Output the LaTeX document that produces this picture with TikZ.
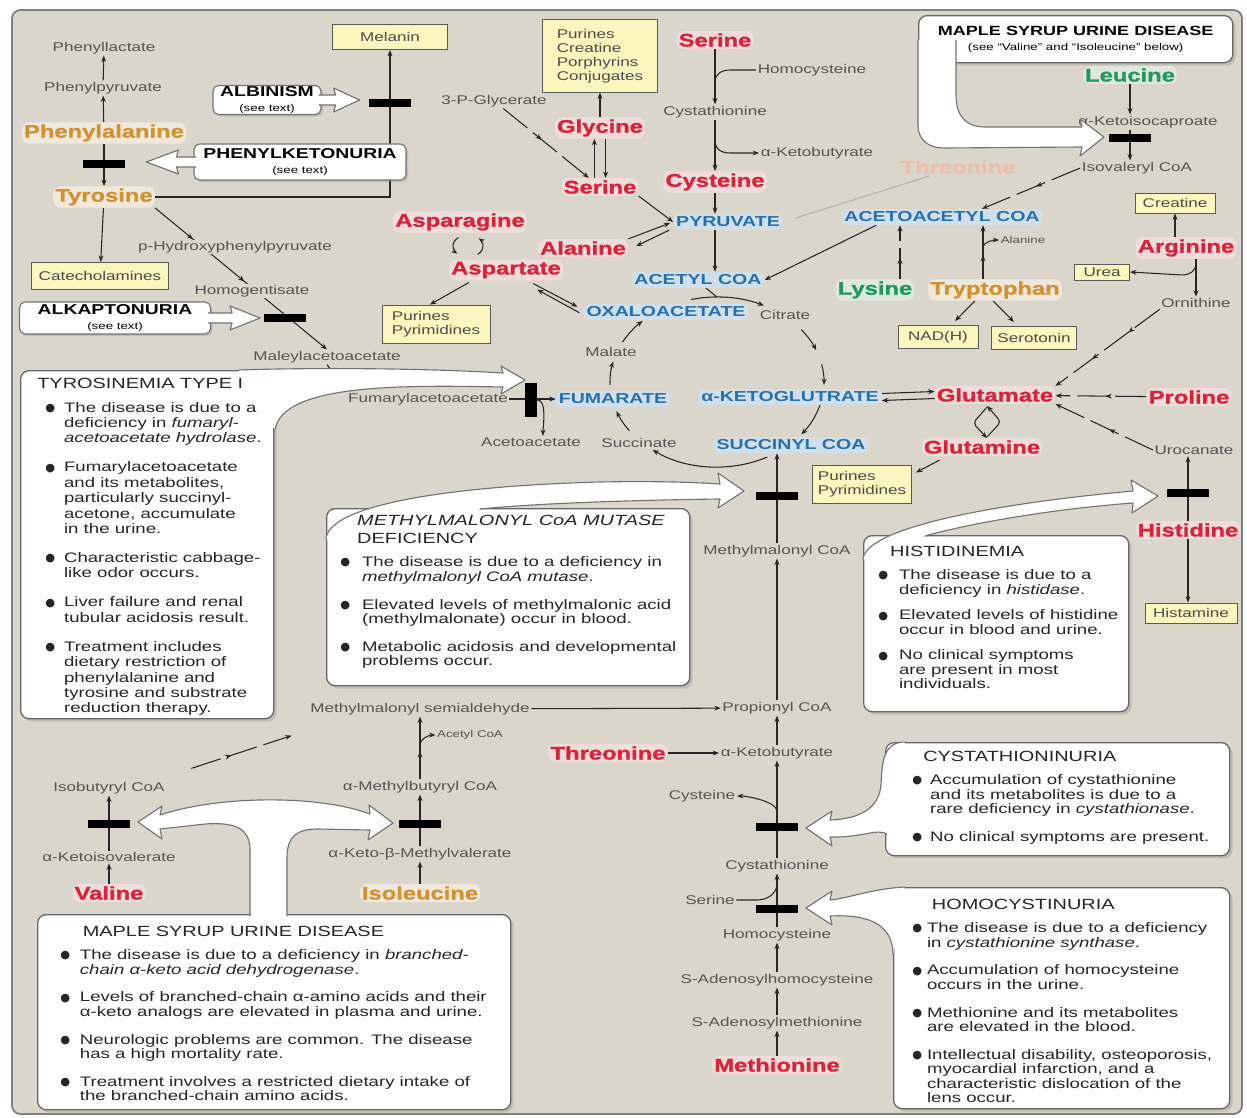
\documentclass[tikz,border=0pt]{standalone}
\usepackage{fontspec}
\setmainfont[FakeStretch=1.35]{Liberation Sans}
\newfontfamily\aafont[FakeStretch=1.3, FakeBold=1.2]{Liberation Sans Bold}
\newfontfamily\symfont{DejaVu Sans}
\usetikzlibrary{arrows.meta, calc, shadows, backgrounds, decorations.markings}

\definecolor{panelbeige}{RGB}{219,214,203}
\definecolor{aared}{RGB}{216,36,58}
\definecolor{aaorange}{RGB}{210,146,52}
\definecolor{aagreen}{RGB}{36,152,90}
\definecolor{fadedthr}{RGB}{236,190,170}
\definecolor{hubblue}{RGB}{40,112,170}
\definecolor{hubglow}{RGB}{206,226,240}
\definecolor{prodyellow}{RGB}{250,246,190}
\definecolor{metgray}{RGB}{86,84,82}

\tikzset{
    met/.style={font=\fontsize{9}{10}\selectfont, text=metgray, fill=panelbeige, inner sep=1pt},
    smallmet/.style={font=\fontsize{7}{8}\selectfont, text=metgray, fill=panelbeige, inner sep=1pt},
    aa/.style={font=\aafont\fontsize{13}{14}\selectfont, text=#1, fill=#1!14, fill opacity=0.7, text opacity=1, rounded corners=5pt, inner sep=1.5pt},
    hub/.style={font=\fontsize{10.3}{11}\selectfont\bfseries, text=hubblue, fill=hubglow, fill opacity=0.85, text opacity=1, rounded corners=4pt, inner sep=2pt},
    prodbox/.style={draw=black!65, fill=prodyellow, line width=0.7pt, font=\fontsize{9}{10}\selectfont, text=black!70, inner sep=2pt},
    blockbar/.style={fill=black, minimum width=1.05cm, minimum height=0.22cm, inner sep=0pt},
    vblockbar/.style={fill=black, minimum width=0.3cm, minimum height=0.85cm, inner sep=0pt},
    metarrow/.style={-{Stealth[length=4.5pt,width=3.5pt]}, line width=0.75pt, draw=black!85},
    metline/.style={line width=0.75pt, draw=black!85},
    multistep/.style={metarrow, dash pattern=on 22pt off 5pt},
    arrowat/.style={postaction={decorate, decoration={markings, mark=at position #1 with {\arrow{Stealth[length=4.5pt,width=3.5pt]}}}}},
    infobox/.style={draw=black!60, fill=white, rounded corners=6pt, line width=0.9pt, drop shadow={opacity=0.3, shadow xshift=2pt, shadow yshift=-2pt}},
    boxtext/.style={font=\fontsize{9.8}{10.3}\selectfont, text=black!85, inner sep=0pt},
    calloutbox/.style={draw=black!55, fill=white, rounded corners=4pt, line width=0.8pt, align=center, inner sep=1pt, drop shadow={opacity=0.3, shadow xshift=1.5pt, shadow yshift=-1.5pt}},
    calloutedge/.style={draw=black!55, fill=white, line width=0.8pt, line join=round}
}
\newcommand{\boxhead}[1]{{\fontsize{10.5}{12}\selectfont #1}}
\newcommand{\calloutname}[1]{{\fontsize{10.2}{11.5}\selectfont\bfseries #1}}
\newcommand{\seetext}[1]{{\fontsize{7}{8}\selectfont #1}}
\newcommand{\blt}{\raisebox{0.1ex}{\symfont\fontsize{8}{8}\selectfont ●}}

\begin{document}
\begin{tikzpicture}[x=0.025cm, y=-0.025cm]

\useasboundingbox (0,0) rectangle (1247,1117);
\begin{scope}[on background layer]
    \fill[white] (0,0) rectangle (1247,1117);
    \draw[rounded corners=6pt, fill=panelbeige, draw=black!50, line width=1.3pt] (12,10) rectangle (1242,1114);
\end{scope}

% phenylalanine / tyrosine
\node[met] (plac) at (104,48) {Phenyllactate};
\node[met] (ppyr) at (103,88) {Phenylpyruvate};
\node[aa=aaorange] (phe) at (104,133) {Phenylalanine};
\node[aa=aaorange] (tyr) at (104,197) {Tyrosine};
\node[prodbox, minimum width=2.875cm, minimum height=0.625cm] (melanin) at (390,37) {Melanin};
\node[prodbox, minimum width=3.4cm, minimum height=0.675cm] (catechol) at (100,276) {Catecholamines};
\node[met] (hpp) at (235,247) {p-Hydroxyphenylpyruvate};
\node[met] (hga) at (252,291) {Homogentisate};
\node[met] (mal) at (327,357) {Maleylacetoacetate};
\node[met] (fumaa) at (428,399) {Fumarylacetoacetate};
\node[met] (acac) at (531,442) {Acetoacetate};

% serine, glycine, pyruvate
\node[met] (pg3) at (494,101) {3-P-Glycerate};
\node[prodbox, align=left, minimum width=2.875cm, minimum height=1.8cm] (purbox) at (600,56) {Purines\\Creatine\\Porphyrins\\Conjugates};
\node[aa=aared] (gly) at (600,128) {Glycine};
\node[aa=aared] (ser2) at (600,187) {Serine};
\node[aa=aared] (ser1) at (715,40) {Serine};
\node[met] (hcy1) at (812,70) {Homocysteine};
\node[met] (cysta1) at (715,112) {Cystathionine};
\node[met] (akb1) at (817,153) {α-Ketobutyrate};
\node[aa=aared] (cys1) at (715,182) {Cysteine};
\node[hub] (pyr) at (728,222) {PYRUVATE};
\node[aa=aared] (ala) at (583,248) {Alanine};
\node[aa=aared] (asn) at (460,222) {Asparagine};
\coordinate (asnloop) at (468,246);
\node[aa=aared] (asp) at (506,270) {Aspartate};
\node[prodbox, align=left, minimum width=2.7cm, minimum height=0.95cm] (purpyr1) at (436,324) {Purines\\Pyrimidines};
\node[hub] (acoa) at (698,280) {ACETYL COA};

% citric acid cycle
\coordinate (tca) at (717,382);
\node[hub] (oaa) at (666,312) {OXALOACETATE};
\node[met] (cit) at (785,315) {Citrate};
\node[met] (mlt) at (611,352) {Malate};
\node[hub] (fum) at (613,399) {FUMARATE};
\node[hub] (akg) at (790,397) {α-KETOGLUTRATE};
\node[met] (suc) at (639,443) {Succinate};
\node[hub] (sca) at (791,445) {SUCCINYL COA};

% ketogenic side
\node[aa=fadedthr, fill=none] (thr1) at (958,167) {Threonine};
\node[aa=aagreen] (leu) at (1130,75) {Leucine};
\node[met] (kic) at (1148,122) {α-Ketoisocaproate};
\node[met] (ivcoa) at (1137,168) {Isovaleryl CoA};
\node[hub] (aacoa) at (942,217) {ACETOACETYL COA};
\node[aa=aagreen] (lys) at (875,290) {Lysine};
\node[aa=aaorange] (trp) at (995,290) {Tryptophan};
\node[smallmet] (alas) at (1023,240) {Alanine};
\node[prodbox, minimum width=2cm, minimum height=0.575cm] (nadh) at (938,337) {NAD(H)};
\node[prodbox, minimum width=2.125cm, minimum height=0.575cm] (sero) at (1034,338) {Serotonin};
\node[prodbox, minimum width=2cm, minimum height=0.5cm] (creat) at (1175,203) {Creatine};
\node[aa=aared] (arg) at (1186,248) {Arginine};
\node[prodbox, minimum width=1.375cm, minimum height=0.4cm, inner sep=0pt] (urea) at (1102,272) {Urea};
\node[met] (orn) at (1196,303) {Ornithine};
\node[aa=aared] (glu) at (995,395) {Glutamate};
\node[aa=aared] (pro) at (1189,397) {Proline};
\node[met] (uro) at (1194,450) {Urocanate};
\node[aa=aared] (gln) at (982,447) {Glutamine};
\node[prodbox, align=left, minimum width=2.475cm, minimum height=0.95cm] (purpyr2) at (862,484) {Purines\\Pyrimidines};
\node[aa=aared] (his) at (1188,530) {Histidine};
\node[prodbox, minimum width=2.3cm, minimum height=0.5cm] (hista) at (1191,613) {Histamine};

% propionyl CoA and branched chains
\node[met] (mmcoa) at (777,551) {Methylmalonyl CoA};
\node[met] (msa) at (420,709) {Methylmalonyl semialdehyde};
\node[met] (pcoa) at (777,708) {Propionyl CoA};
\node[smallmet] (acoas) at (470,735) {Acetyl CoA};
\node[met] (mbcoa) at (420,787) {α-Methylbutyryl CoA};
\node[met] (kmv) at (420,854) {α-Keto-β-Methylvalerate};
\node[aa=aaorange] (ile) at (420,893) {Isoleucine};
\node[met] (ibcoa) at (109,788) {Isobutyryl CoA};
\node[met] (kiv) at (109,857) {α-Ketoisovalerate};
\node[aa=aared] (val) at (109,893) {Valine};
\node[aa=aared] (thr2) at (608,753) {Threonine};
\node[met] (akb2) at (777,753) {α-Ketobutyrate};
\node[met] (cys2) at (702,796) {Cysteine};
\node[met] (cysta2) at (777,866) {Cystathionine};
\node[met] (ser3) at (710,900) {Serine};
\node[met] (hcy2) at (777,935) {Homocysteine};
\node[met] (sah) at (777,980) {S-Adenosylhomocysteine};
\node[met] (sam) at (777,1023) {S-Adenosylmethionine};
\node[aa=aared] (methio) at (777,1065) {Methionine};

\begin{scope}[on background layer]
    \draw[metarrow] (phe) -- (ppyr);
    \draw[metarrow] (ppyr) -- (plac);
    \draw[metarrow] (phe) -- (tyr);
    \draw[metarrow] (tyr.east) -| (melanin.south);
    \draw[metarrow] (tyr) -- (catechol);
    \draw[metarrow, arrowat=0.22, arrowat=0.52] (tyr.south east) -- (mal.north);
    \draw[metarrow] (mal.south) -- (fumaa.north west);
    \draw[metarrow] (fumaa) -- (fum);
    \draw[multistep, arrowat=0.45] (pg3) -- (ser2);
    \draw[metarrow] (gly) -- (purbox);
    \draw[metarrow] ([xshift=-4pt]ser2.north) -- ([xshift=-4pt]gly.south);
    \draw[metarrow] ([xshift=4pt]gly.south) -- ([xshift=4pt]ser2.north);
    \draw[metarrow] (ser1) -- (cysta1);
    \draw[metline] (hcy1.west) -- ($(ser1.south |- hcy1.west)+(16,0)$) .. controls +(-10,0) and +(0,-8) .. ($(ser1.south |- hcy1.west)+(0,12)$);
    \draw[metarrow] (cysta1) -- (cys1);
    \draw[metarrow] ($(cysta1.south)+(0,20)$) .. controls +(0,10) and +(-10,0) .. ($(cysta1.south |- akb1.west)+(16,0)$) -- (akb1.west);
    \draw[metarrow] (cys1.south) -- (cys1.south |- pyr.north);
    \draw[metarrow] (ser2.south east) -- (pyr.west);
    \draw[metarrow] (ala.north east) -- ($(pyr.west)+(-3,1)$);
    \draw[metarrow] ($(pyr.south west)+(-4,0)$) -- ($(ala.east)+(8,-2)$);
    \draw[black!30, line width=0.75pt, shorten >=10pt] (thr1) -- (pyr.east);
    \draw[metarrow] (cys1.south |- pyr.south) -- (cys1.south |- acoa.north);
    \draw[metline] ($(acoa.south)+(8,0)$) -- ($(tca)+(0,-85)$);
    % cycle arcs
    \foreach \s/\e in {-104/-64, -38/-22, -12/2, 15/38, 62/127, 145/160, 178/194, 208/226}
        \draw[metarrow] ($(tca)+(\s:107 and 85)$) arc[start angle=\s, end angle=\e, x radius=107, y radius=85];
    \draw[metarrow] ($(asp.south east)+(-30,3)$) -- ($(oaa.north west)+(-6,3)$);
    \draw[metarrow] ($(oaa.north west)+(-4,9)$) -- ($(asp.south east)+(-26,9)$);
    \draw[metarrow] ($(asp.south west)+(20,2)$) -- ($(purpyr1.north)+(-6,0)$);
    \draw[metarrow] ($(asnloop)+(230:15 and 11)$) arc[start angle=230, end angle=135, x radius=15, y radius=11];
    \draw[metarrow] ($(asnloop)+(50:15 and 11)$) arc[start angle=50, end angle=-45, x radius=15, y radius=11];
    % ketogenic side
    \draw[metarrow] (leu.south) -- (leu.south |- kic.north);
    \draw[metarrow] (leu.south |- kic.south) -- (leu.south |- ivcoa.north);
    \draw[multistep, arrowat=0.45] (ivcoa.west) -- ($(aacoa.north)+(40,0)$);
    \draw[metarrow] ($(aacoa.south west)+(35,0)$) -- (acoa.east);
    \draw[multistep, arrowat=0.4] ($(lys.north)+(25,0)$) -- ($(aacoa.south)+(-42,0)$);
    \draw[metarrow, arrowat=0.45] ($(trp.north)+(-12,0)$) -- ($(aacoa.south)+(41,0)$);
    \draw[metarrow] ($(aacoa.south)+(41,22)$) .. controls +(0,-5) and +(-6,0) .. (alas.west);
    \draw[metarrow] ($(trp.south)+(-20,0)$) -- ($(nadh.north)+(17,-4)$);
    \draw[metarrow] ($(trp.south)+(-2,0)$) -- ($(sero.north)+(-20,-4)$);
    \draw[metarrow] (arg.north -| creat.south) -- (creat.south);
    \draw[metarrow] (arg.south -| orn.north) -- (orn.north);
    \draw[metarrow] ($(arg.south -| orn.north)+(0,4)$) .. controls +(0,8) and +(8,0) .. ($(arg.south -| orn.north)+(-14,16)$) -- (urea.east);
    \draw[multistep, arrowat=0.3, arrowat=0.65] (orn.south west) -- (glu.north east);
    \draw[multistep, arrowat=0.45] (pro) -- (glu);
    \draw[multistep, arrowat=0.45] (uro.west) -- (glu.south east);
    \draw[metarrow] ([yshift=2.5pt]akg.east) -- ([yshift=2.5pt]glu.west);
    \draw[metarrow] ([yshift=-2.5pt]glu.west) -- ([yshift=-2.5pt]akg.east);
    \draw[metarrow, rounded corners=3pt] ($(glu.south)+(-8,3)$) -- ++(-14,16) -- ++(14,15);
    \draw[metarrow, rounded corners=3pt] ($(gln.north)+(5,-1)$) -- ++(14,-15) -- ++(-14,-16);
    \draw[metarrow] ($(gln.south west)+(18,4)$) -- ($(purpyr2.north east)+(4,8)$);
    \draw[metarrow] (his.north) -- (his.north |- uro.south);
    \draw[metarrow] (his.south) -- (his.south |- hista.north);
    % propionyl CoA column
    \draw[metarrow] (mmcoa.north) -- (mmcoa.north |- sca.south);
    \draw[metarrow] (pcoa) -- (mmcoa);
    \draw[metarrow] (msa) -- (pcoa);
    \draw[metarrow, arrowat=0.45] (mbcoa) -- (msa);
    \draw[metarrow] ($(msa.south)+(0,28)$) .. controls +(0,-6) and +(-6,0) .. (acoas.west);
    \draw[metarrow] (kmv) -- (mbcoa);
    \draw[metarrow] (ile) -- (kmv);
    \draw[metarrow] (kiv) -- (ibcoa);
    \draw[metarrow] (val) -- (kiv);
    \draw[multistep, arrowat=0.4] ($(ibcoa.north east)+(25,-12)$) -- ($(msa.south west)+(-17,19)$);
    \draw[metarrow] (thr2) -- (akb2);
    \draw[metarrow] (akb2) -- (pcoa);
    \draw[metarrow] (cysta2) -- (akb2);
    \draw[metarrow] ($(cysta2.north)+(0,-47)$) .. controls +(0,-10) and +(10,0) .. (cys2.east);
    \draw[metarrow] (hcy2) -- (cysta2);
    \draw[metline] (ser3.east) -- ($(ser3.east -| hcy2)+(-20,0)$) .. controls +(12,0) and +(0,8) .. ($(ser3.east -| hcy2)+(0,-16)$);
    \draw[metarrow] (sah) -- (hcy2);
    \draw[metarrow] (sam) -- (sah);
    \draw[metarrow] (methio) -- (sam);
\end{scope}

% enzyme blocks
\node[blockbar] (pkubar) at (104,164) {};
\node[blockbar] (albbar) at (390,103) {};
\node[blockbar] (alkbar) at (285,318) {};
\node[vblockbar] (fahbar) at (531,400) {};
\node[blockbar] (msudbar) at (1130,138) {};
\node[blockbar] (mcmbar) at (777,496) {};
\node[blockbar] (hisbar) at (1188,493) {};
\node[blockbar] (ilebar) at (420,824) {};
\node[blockbar] (valbar) at (109,824) {};
\node[blockbar] (ctnbar) at (777,827) {};
\node[blockbar] (cbsbar) at (777,909) {};
\draw[metarrow] (fahbar.east) .. controls +(10,0) and +(0,-10) .. ($(acac.north)+(12,0)$);

% small callouts
\node[calloutbox, minimum width=2.7cm, minimum height=0.725cm] (albinism) at (267,100) {\calloutname{ALBINISM}\\[-2pt]\seetext{(see text)}};
\draw[calloutedge] ($(albinism.east)+(-3,-5)$) -- ++(17,0) -- ++(-2,-7) -- ++(26,12) -- ++(-26,12) -- ++(2,-7) -- ++(-17,0);
\node[calloutbox, minimum width=5.3cm, minimum height=0.9cm] (pku) at (300,162) {\calloutname{PHENYLKETONURIA}\\[-2pt]\seetext{(see text)}};
\draw[calloutedge] ($(pku.west)+(3,-5)$) -- ++(-20,0) -- ++(2,-7) -- ++(-32,12) -- ++(32,12) -- ++(-2,-7) -- ++(20,0);
\node[calloutbox, minimum width=4.775cm, minimum height=0.8cm] (alk) at (115,318) {\calloutname{ALKAPTONURIA}\\[-2pt]\seetext{(see text)}};
\draw[calloutedge] ($(alk.east)+(-3,-5)$) -- ++(24,0) -- ++(-2,-7) -- ++(30,12) -- ++(-30,12) -- ++(2,-7) -- ++(-24,0);

% maple syrup urine disease, top
\node[infobox, anchor=north west, minimum width=7.85cm, minimum height=1.175cm, align=center, inner sep=1pt] (msudtop) at (918,15) {{\fontsize{9.5}{11}\selectfont\bfseries MAPLE SYRUP URINE DISEASE}\\[-1pt]\seetext{(see “Valine” and “Isoleucine” below)}};
\draw[calloutedge] (918,40) -- (918,125) .. controls (918,140) and (928,148) .. (945,148) -- (1082,147) -- (1080,156) -- (1104,137) -- (1080,119) -- (1082,127) -- (985,127) .. controls (965,127) and (956,115) .. (956,95) -- (956,40);

% tyrosinemia
\node[infobox, anchor=north west, minimum width=6.325cm, minimum height=8.7cm] (tyrbox) at (20,370) {};
\draw[calloutedge] (238,370) .. controls (330,367) and (440,369) .. (503,373) -- (501,366) -- (525,380) -- (501,394) -- (503,387) .. controls (400,385) and (282,384) .. (275,430);
\node[boxtext, font=\fontsize{9.8}{11}\selectfont, anchor=north west] (tyrtext) at (37,377) {%
\begin{tabular}{@{\hspace{5.7pt}}l@{\hspace{6.4pt}}l@{}}
\multicolumn{2}{@{}l@{}}{\boxhead{TYROSINEMIA TYPE I}}\\[6pt]
\blt & The disease is due to a\\
 & deficiency in \textit{fumaryl-}\\
 & \textit{acetoacetate hydrolase}.\\[9.5pt]
\blt & Fumarylacetoacetate\\
 & and its metabolites,\\
 & particularly succinyl-\\
 & acetone, accumulate\\
 & in the urine.\\[9.5pt]
\blt & Characteristic cabbage-\\
 & like odor occurs.\\[9.5pt]
\blt & Liver failure and renal\\
 & tubular acidosis result.\\[9.5pt]
\blt & Treatment includes\\
 & dietary restriction of\\
 & phenylalanine and\\
 & tyrosine and substrate\\
 & reduction therapy.
\end{tabular}};

% methylmalonyl CoA mutase deficiency
\node[infobox, anchor=north west, minimum width=9.075cm, minimum height=4.425cm] (mmbox) at (326,508) {};
\draw[calloutedge] (326,540) .. controls (326,505) and (450,486) .. (600,482) .. controls (650,481) and (690,482) .. (720,484) -- (718,473) -- (744,491) -- (718,508) -- (720,499) .. controls (640,500) and (540,503) .. (480,509);
\node[boxtext, anchor=north west] (mmtext) at (340,515) {%
\begin{tabular}{@{}l@{\hspace{8.5pt}}l@{}}
\multicolumn{2}{@{\hspace{12pt}}l@{}}{\boxhead{\textit{METHYLMALONYL CoA MUTASE}}}\\[2.5pt]
\multicolumn{2}{@{\hspace{12pt}}l@{}}{\boxhead{DEFICIENCY}}\\[6pt]
\blt & The disease is due to a deficiency in\\
 & \textit{methylmalonyl CoA mutase}.\\[9.5pt]
\blt & Elevated levels of methylmalonic acid\\
 & (methylmalonate) occur in blood.\\[9.5pt]
\blt & Metabolic acidosis and developmental\\
 & problems occur.
\end{tabular}};

% histidinemia
\node[infobox, anchor=north west, minimum width=6.625cm, minimum height=4.4cm] (hisbox) at (863,535) {};
\draw[calloutedge] (863,560) .. controls (863,530) and (980,505) .. (1133,491) -- (1131,480) -- (1158,496) -- (1132,513) -- (1133,503) .. controls (1040,510) and (960,526) .. (925,536);
\node[boxtext, anchor=north west] (histext) at (878,546) {%
\begin{tabular}{@{}l@{\hspace{7.8pt}}l@{}}
\multicolumn{2}{@{\hspace{8.5pt}}l@{}}{\boxhead{HISTIDINEMIA}}\\[6pt]
\blt & The disease is due to a\\
 & deficiency in \textit{histidase}.\\[8pt]
\blt & Elevated levels of histidine\\
 & occur in blood and urine.\\[8pt]
\blt & No clinical symptoms\\
 & are present in most\\
 & individuals.
\end{tabular}};

% cystathioninuria
\node[infobox, anchor=north west, minimum width=8.6cm, minimum height=2.825cm] (ctnbox) at (885,742) {};
\draw[calloutedge] (905,742) .. controls (884,742) and (882,760) .. (881,785) .. controls (879,808) and (860,819) .. (830,820) -- (832,811) -- (806,828) -- (832,846) -- (830,837) .. controls (860,838) and (878,828) .. (887,834);
\node[boxtext, anchor=north west] (ctntext) at (912,751) {%
\begin{tabular}{@{}l@{\hspace{5.7pt}}l@{}}
\multicolumn{2}{@{\hspace{7.8pt}}l@{}}{\boxhead{CYSTATHIONINURIA}}\\[6pt]
\blt & Accumulation of cystathionine\\
 & and its metabolites is due to a\\
 & rare deficiency in \textit{cystathionase}.\\[9.5pt]
\blt & No clinical symptoms are present.
\end{tabular}};

% homocystinuria
\node[infobox, anchor=north west, minimum width=8.4cm, minimum height=5.525cm] (cbsbox) at (893,887) {};
\draw[calloutedge] (905,887) .. controls (870,889) and (850,898) .. (830,900) -- (832,891) -- (806,908) -- (832,925) -- (830,916) .. controls (870,914) and (893,925) .. (893,955);
\node[boxtext, anchor=north west] (cbstext) at (912,899) {%
\begin{tabular}{@{}l@{\hspace{3.5pt}}l@{}}
\multicolumn{2}{@{\hspace{14pt}}l@{}}{\boxhead{HOMOCYSTINURIA}}\\[6pt]
\blt & The disease is due to a deficiency\\
 & in \textit{cystathionine synthase}.\\[9.5pt]
\blt & Accumulation of homocysteine\\
 & occurs in the urine.\\[9.5pt]
\blt & Methionine and its metabolites\\
 & are elevated in the blood.\\[9.5pt]
\blt & Intellectual disability, osteoporosis,\\
 & myocardial infarction, and a\\
 & characteristic dislocation of the\\
 & lens occur.
\end{tabular}};

% maple syrup urine disease, bottom
\node[infobox, anchor=north west, minimum width=11.825cm, minimum height=4.875cm] (msudbox) at (37,914) {};
\draw[calloutedge] (250,916) -- (250,850) .. controls (250,828) and (235,822) .. (205,824) -- (160,829) -- (162,839) -- (138,822) -- (162,806) -- (160,815) .. controls (220,795) and (320,795) .. (370,814) -- (369,805) -- (393,823) -- (368,840) -- (370,830) -- (318,829) .. controls (297,829) and (287,836) .. (287,858) -- (287,916);
\node[boxtext, anchor=north west] (msudtext) at (60,926) {%
\begin{tabular}{@{}l@{\hspace{7pt}}l@{}}
\multicolumn{2}{@{\hspace{16pt}}l@{}}{\boxhead{MAPLE SYRUP URINE DISEASE}}\\[6pt]
\blt & The disease is due to a deficiency in \textit{branched-}\\
 & \textit{chain α-keto acid dehydrogenase}.\\[9.5pt]
\blt & Levels of branched-chain α-amino acids and their\\
 & α-keto analogs are elevated in plasma and urine.\\[9.5pt]
\blt & Neurologic problems are common. The disease\\
 & has a high mortality rate.\\[9.5pt]
\blt & Treatment involves a restricted dietary intake of\\
 & the branched-chain amino acids.
\end{tabular}};

\end{tikzpicture}
\end{document}
